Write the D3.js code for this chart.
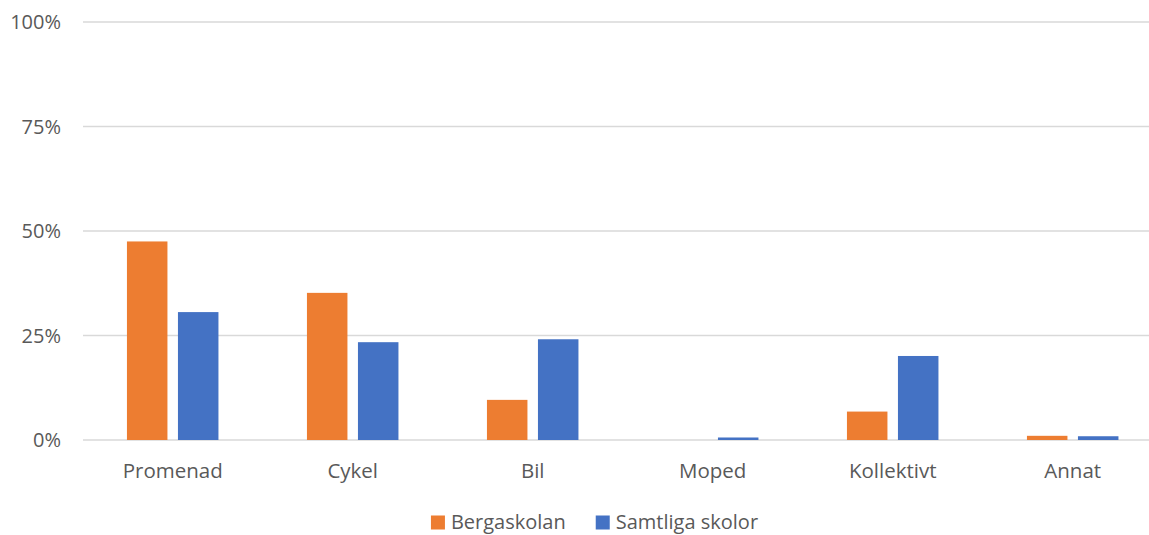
<!DOCTYPE html>
<html>
<head>
<meta charset="utf-8">
<script src="https://cdn.jsdelivr.net/npm/d3@7"></script>
<style>
  body { margin: 0; background: #fff; }
  text { font-family: "Open Sans", sans-serif; fill: #595959; }
</style>
</head>
<body>
<div id="chart"></div>
<script>
// data (percent)
var categories = ["Promenad", "Cykel", "Bil", "Moped", "Kollektivt", "Annat"];
var seriesNames = ["Bergaskolan", "Samtliga skolor"];
var bergaskolan = [47.5, 35.2, 9.6, 0, 6.8, 1.0];
var samtliga = [30.6, 23.4, 24.1, 0.6, 20.1, 0.9];
var yTicks = [0, 25, 50, 75, 100];
var colors = ["#ED7D31", "#4472C4"];

var width = 1149, height = 535;

var svg = d3.select("#chart")
    .append("svg")
    .attr("width", width)
    .attr("height", height);

// plot area
var x = d3.scaleBand()
    .domain(categories)
    .range([82.7, 1162.7])
    .padding(0);

var y = d3.scaleLinear()
    .domain([0, 100])
    .range([440, 22]);

// bars sit in a group 91.5 wide centred in each band
var groupW = 91.5;
var xInner = d3.scaleBand()
    .domain(seriesNames)
    .range([0, groupW])
    .paddingInner(0.206)
    .paddingOuter(0);

// gridlines
svg.append("g")
    .selectAll("line")
    .data(yTicks)
    .enter()
    .append("line")
    .attr("x1", 83)
    .attr("x2", width)
    .attr("y1", d => y(d))
    .attr("y2", d => y(d))
    .attr("stroke", "#D9D9D9")
    .attr("stroke-width", 1.5);

// y labels
svg.append("g")
    .selectAll("text")
    .data(yTicks)
    .enter()
    .append("text")
    .attr("x", 61)
    .attr("y", d => y(d))
    .attr("dy", "0.35em")
    .attr("text-anchor", "end")
    .style("font-size", "20px")
    .text(d => d + "%");

var rows = categories.map((c, i) => ({
    cat: c,
    vals: [bergaskolan[i], samtliga[i]]
}));

var groups = svg.append("g")
    .selectAll("g")
    .data(rows)
    .enter()
    .append("g")
    .attr("transform", d => "translate(" + (x(d.cat) + x.bandwidth() / 2 - groupW / 2) + ",0)");

groups.selectAll("rect")
    .data(d => d.vals.map((v, j) => ({ name: seriesNames[j], value: v, j: j })))
    .enter()
    .append("rect")
    .attr("x", d => xInner(d.name))
    .attr("width", xInner.bandwidth())
    .attr("y", d => y(d.value))
    .attr("height", d => y(0) - y(d.value))
    .attr("fill", d => colors[d.j]);

// category labels
svg.append("g")
    .selectAll("text")
    .data(categories)
    .enter()
    .append("text")
    .attr("x", d => x(d) + x.bandwidth() / 2)
    .attr("y", 477.5)
    .attr("text-anchor", "middle")
    .style("font-size", "20.5px")
    .text(d => d);

// legend
var legend = svg.append("g");
var items = legend.selectAll("g")
    .data(seriesNames)
    .enter()
    .append("g");

items.append("rect")
    .attr("width", 14)
    .attr("height", 14)
    .attr("y", 515.5)
    .attr("fill", (d, i) => colors[i]);

items.append("text")
    .attr("x", 20)
    .attr("y", 529)
    .style("font-size", "20px")
    .text(d => d);

var offset = 0;
var widths = [];
items.each(function () {
    var w = this.querySelector("text").getComputedTextLength() + 20;
    widths.push(w);
});
var gap = 30;
var total = d3.sum(widths) + gap * (widths.length - 1);
offset = 594.5 - total / 2;
items.attr("transform", (d, i) => {
    var t = "translate(" + offset + ",0)";
    offset += widths[i] + gap;
    return t;
});
</script>
</body>
</html>
